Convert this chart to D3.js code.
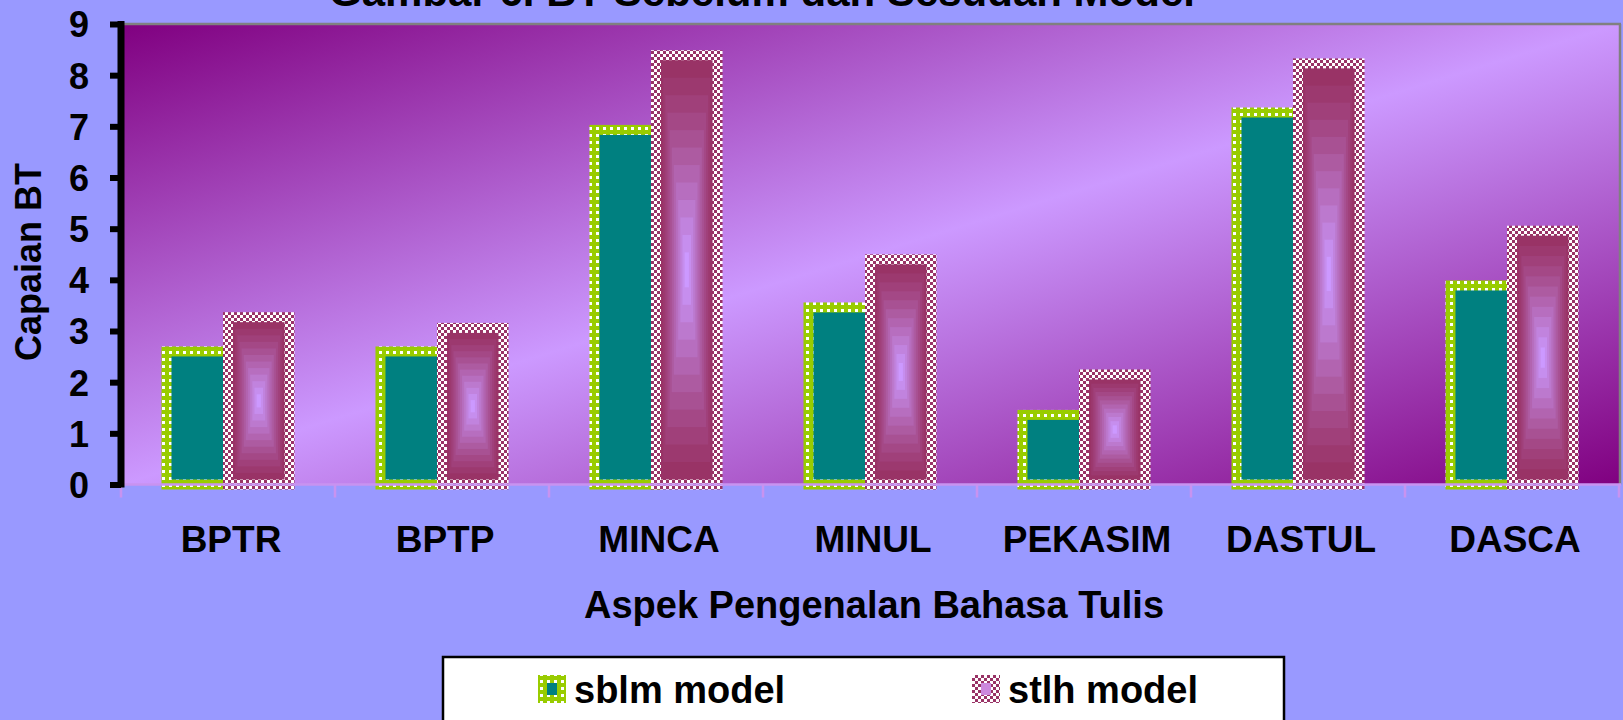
<!DOCTYPE html>
<html>
<head>
<meta charset="utf-8">
<script src="https://cdn.jsdelivr.net/npm/d3@7"></script>
<style>
  html, body { margin: 0; padding: 0; background: #9999ff; overflow: hidden; }
  svg { display: block; }
  text { font-family: "Liberation Sans", Arial, sans-serif; font-weight: bold; fill: #000; }
</style>
</head>
<body>
<script>
// ---- data ----
const categories = ["BPTR", "BPTP", "MINCA", "MINUL", "PEKASIM", "DASTUL", "DASCA"];
const seriesNames = ["sblm model", "stlh model"];
const sblmValues = [2.6, 2.6, 6.93, 3.46, 1.36, 7.27, 3.89];
const stlhValues = [3.27, 3.06, 8.39, 4.4, 2.15, 8.23, 4.96];
const yTicks = [0, 1, 2, 3, 4, 5, 6, 7, 8, 9];
const titleText = "Gambar 6. BT Sebelum dan Sesudah Model";
const xTitle = "Aspek Pengenalan Bahasa Tulis";
const yTitle = "Capaian BT";

const W = 1623, H = 720;
const plot = { left: 121, right: 1619, top: 24, bottom: 484.5 };
const borderW = 10;

const svg = d3.select("body").append("svg").attr("width", W).attr("height", H);
const defs = svg.append("defs");

// plot-area diagonal gradient
const bg = defs.append("linearGradient").attr("id", "plotGrad")
  .attr("x1", 0).attr("y1", 0).attr("x2", 1).attr("y2", 1);
bg.append("stop").attr("offset", "0%").attr("stop-color", "#800080");
bg.append("stop").attr("offset", "50%").attr("stop-color", "#cc99ff");
bg.append("stop").attr("offset", "100%").attr("stop-color", "#800080");

// green dotted pattern
const gp = defs.append("pattern").attr("id", "greenPat").attr("patternUnits", "userSpaceOnUse")
  .attr("width", 7).attr("height", 7);
gp.append("rect").attr("width", 7).attr("height", 7).attr("fill", "#99cc00");
gp.append("rect").attr("x", 1).attr("y", 1).attr("width", 3).attr("height", 3).attr("fill", "#ffffff");

// maroon checker pattern
const mp = defs.append("pattern").attr("id", "maroonPat").attr("patternUnits", "userSpaceOnUse")
  .attr("width", 6).attr("height", 6);
mp.append("rect").attr("width", 6).attr("height", 6).attr("fill", "#ffffff");
mp.append("rect").attr("x", 0).attr("y", 0).attr("width", 3).attr("height", 3).attr("fill", "#993366");
mp.append("rect").attr("x", 3).attr("y", 3).attr("width", 3).attr("height", 3).attr("fill", "#993366");

// scales
const x = d3.scaleBand().domain(categories).range([plot.left, plot.right])
  .paddingInner(0.425).paddingOuter(0.2125);
const xs = d3.scaleBand().domain(seriesNames).range([0, x.bandwidth()]).padding(0);
const y = d3.scaleLinear().domain([0, 9]).range([plot.bottom, plot.top]);

// plot background
svg.append("rect").attr("x", plot.left).attr("y", plot.top)
  .attr("width", plot.right - plot.left + 1).attr("height", plot.bottom - plot.top)
  .attr("fill", "url(#plotGrad)");
svg.append("line").attr("x1", plot.left).attr("x2", plot.right + 2).attr("y1", plot.top).attr("y2", plot.top)
  .attr("stroke", "#808080").attr("stroke-width", 2.5);
svg.append("line").attr("x1", plot.right + 1).attr("x2", plot.right + 1).attr("y1", plot.top).attr("y2", plot.bottom)
  .attr("stroke", "#808080").attr("stroke-width", 2.5);

// bars
const gradInner = d3.interpolateRgb("#993366", "#cc99ff");
const N = 12;
function drawBars(values, sname, pat, kind) {
  const g = svg.append("g");
  values.forEach((v, i) => {
    const x0 = x(categories[i]) + xs(sname);
    const w = xs.bandwidth();
    const y0 = y(v);
    const h = y(0) - y(v);
    g.append("rect").attr("x", x0 - borderW / 2).attr("y", y0 - borderW / 2)
      .attr("width", w + borderW).attr("height", h + borderW).attr("fill", pat);
    const ix = x0 + borderW / 2, iy = y0 + borderW / 2, iw = w - borderW, ih = h - borderW;
    if (kind === "solid") {
      g.append("rect").attr("x", ix).attr("y", iy).attr("width", iw).attr("height", ih).attr("fill", "#008080");
    } else {
      const cx = ix + iw / 2, cy = iy + ih / 2;
      for (let k = 0; k < N; k++) {
        const s = (N - k) / N;
        g.append("rect").attr("x", cx - iw * s / 2).attr("y", cy - ih * s / 2)
          .attr("width", iw * s).attr("height", ih * s)
          .attr("fill", gradInner(Math.pow(k / (N - 1), 1.2)));
      }
    }
  });
}
drawBars(sblmValues, seriesNames[0], "url(#greenPat)", "solid");
drawBars(stlhValues, seriesNames[1], "url(#maroonPat)", "grad");

// x axis (lilac line + ticks at band boundaries)
const xAxisColor = "#c893f0";
svg.append("line").attr("x1", plot.left).attr("x2", plot.right + 2).attr("y1", plot.bottom).attr("y2", plot.bottom)
  .attr("stroke", xAxisColor).attr("stroke-width", 2.5);
const boundaries = categories.map(c => x(c) - x.step() * x.paddingOuter()).concat([plot.right]);
svg.append("g").selectAll("line").data(boundaries).join("line")
  .attr("x1", d => d).attr("x2", d => d).attr("y1", plot.bottom).attr("y2", plot.bottom + 13)
  .attr("stroke", xAxisColor).attr("stroke-width", 2.5);

// x labels
svg.append("g").selectAll("text").data(categories).join("text")
  .attr("x", d => x(d) + x.bandwidth() / 2 + 3).attr("y", 552)
  .attr("text-anchor", "middle").attr("font-size", 37).text(d => d);

// y axis
const yAxis = d3.axisLeft(y).tickValues(yTicks).tickSize(11).tickPadding(21).tickFormat(d3.format("d"));
const yg = svg.append("g").attr("transform", `translate(${plot.left},0)`).call(yAxis);
yg.select(".domain").attr("stroke", "#000").attr("stroke-width", 7)
  .attr("d", `M0,${plot.top - 3}V${plot.bottom + 3}`);
yg.selectAll(".tick line").attr("stroke", "#000").attr("stroke-width", 6);
yg.selectAll(".tick text").attr("font-size", 36).attr("font-family", "Liberation Sans, Arial, sans-serif")
  .attr("font-weight", "bold").attr("fill", "#000").attr("dy", "0.36em");

// titles
svg.append("text").attr("x", 762).attr("y", 6).attr("text-anchor", "middle")
  .attr("font-size", 42).text(titleText);
svg.append("text").attr("x", 874).attr("y", 618).attr("text-anchor", "middle")
  .attr("font-size", 38).text(xTitle);
svg.append("text").attr("transform", "translate(41,262) rotate(-90)").attr("text-anchor", "middle")
  .attr("font-size", 36).text(yTitle);

// legend
const lg = svg.append("g");
lg.append("rect").attr("x", 443).attr("y", 657).attr("width", 841).attr("height", 100)
  .attr("fill", "#ffffff").attr("stroke", "#000").attr("stroke-width", 2.5);
const legendItems = [
  { name: seriesNames[0], sx: 538, pat: "url(#greenPat)", inner: "#008080" },
  { name: seriesNames[1], sx: 972, pat: "url(#maroonPat)", inner: "#cc88dd" }
];
legendItems.forEach(it => {
  lg.append("rect").attr("x", it.sx).attr("y", 675).attr("width", 28).attr("height", 28).attr("fill", it.pat);
  lg.append("rect").attr("x", it.sx + 9).attr("y", 683).attr("width", 10).attr("height", 12).attr("fill", it.inner);
  lg.append("text").attr("x", it.sx + 36).attr("y", 703).attr("font-size", 38).text(it.name);
});
</script>
</body>
</html>
